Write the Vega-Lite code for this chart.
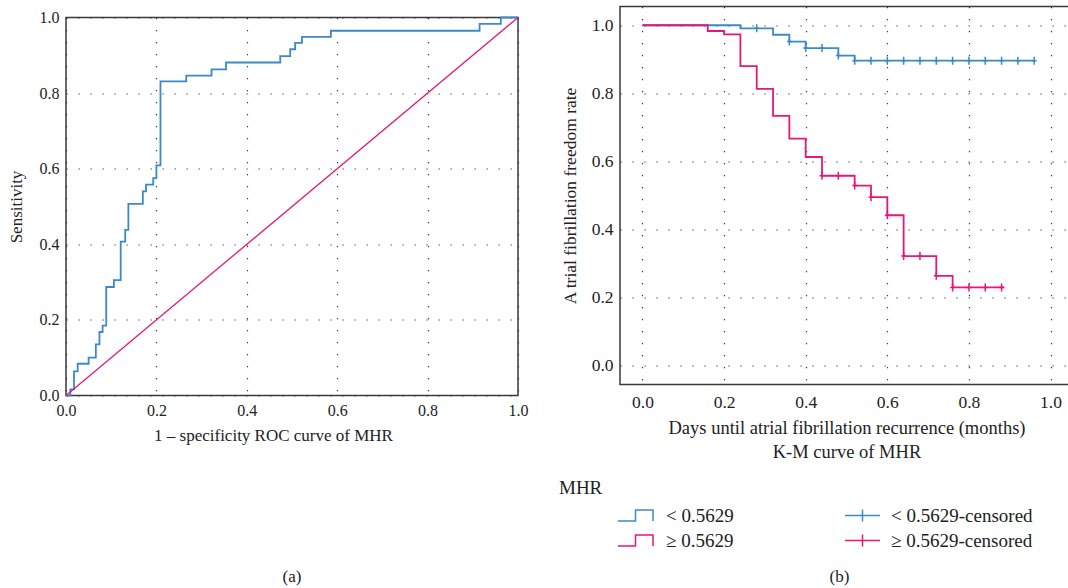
{
  "$schema": "https://vega.github.io/schema/vega-lite/v6.json",
  "background": "white",
  "padding": {"left": 6, "top": 5.5, "right": 0, "bottom": 0},
  "spacing": 31,
  "config": {
    "font": "Liberation Serif",
    "view": {"stroke": "#3a3a3a", "strokeWidth": 1.5},
    "axis": {
      "labelFont": "Liberation Serif", "titleFont": "Liberation Serif",
      "labelFontSize": 16, "titleFontSize": 17, "titleFontWeight": "normal",
      "labelColor": "#222", "titleColor": "#222",
      "ticks": false, "domain": false, "grid": true,
      "gridColor": "#333", "gridDash": [1.2, 10.8], "gridWidth": 1.2,
      "labelFlush": false
    },
    "legend": {
      "labelFont": "Liberation Serif", "titleFont": "Liberation Serif",
      "labelFontSize": 19, "titleFontSize": 19, "titleFontWeight": "normal",
      "labelColor": "#222", "titleColor": "#222"
    },
    "title": {"font": "Liberation Serif", "fontSize": 17, "fontWeight": "normal", "color": "#222"}
  },
  "datasets": {
    "roc": [
      {"fpr": 0.0, "tpr": 0.0}, {"fpr": 0.0096, "tpr": 0.016}, {"fpr": 0.0177, "tpr": 0.064},
      {"fpr": 0.0258, "tpr": 0.084}, {"fpr": 0.050, "tpr": 0.100}, {"fpr": 0.066, "tpr": 0.135},
      {"fpr": 0.074, "tpr": 0.168}, {"fpr": 0.081, "tpr": 0.185}, {"fpr": 0.089, "tpr": 0.287},
      {"fpr": 0.106, "tpr": 0.305}, {"fpr": 0.121, "tpr": 0.407}, {"fpr": 0.131, "tpr": 0.438},
      {"fpr": 0.138, "tpr": 0.507}, {"fpr": 0.170, "tpr": 0.540}, {"fpr": 0.177, "tpr": 0.558},
      {"fpr": 0.193, "tpr": 0.575}, {"fpr": 0.200, "tpr": 0.609}, {"fpr": 0.209, "tpr": 0.831},
      {"fpr": 0.266, "tpr": 0.846}, {"fpr": 0.322, "tpr": 0.863}, {"fpr": 0.354, "tpr": 0.881},
      {"fpr": 0.474, "tpr": 0.898}, {"fpr": 0.496, "tpr": 0.916}, {"fpr": 0.507, "tpr": 0.933},
      {"fpr": 0.522, "tpr": 0.949}, {"fpr": 0.586, "tpr": 0.965}, {"fpr": 0.915, "tpr": 0.983},
      {"fpr": 0.962, "tpr": 1.0}, {"fpr": 1.0, "tpr": 1.0}
    ],
    "diag": [{"fpr": 0, "tpr": 0}, {"fpr": 1, "tpr": 1}],
    "km": [
      {"t": 0.0, "s": 1.0, "group": "< 0.5629"}, {"t": 0.24, "s": 0.991, "group": "< 0.5629"},
      {"t": 0.32, "s": 0.972, "group": "< 0.5629"}, {"t": 0.36, "s": 0.952, "group": "< 0.5629"},
      {"t": 0.40, "s": 0.933, "group": "< 0.5629"}, {"t": 0.48, "s": 0.911, "group": "< 0.5629"},
      {"t": 0.52, "s": 0.896, "group": "< 0.5629"}, {"t": 0.962, "s": 0.896, "group": "< 0.5629"},
      {"t": 0.0, "s": 1.0, "group": "≥ 0.5629"}, {"t": 0.16, "s": 0.983, "group": "≥ 0.5629"},
      {"t": 0.20, "s": 0.973, "group": "≥ 0.5629"}, {"t": 0.24, "s": 0.880, "group": "≥ 0.5629"},
      {"t": 0.28, "s": 0.813, "group": "≥ 0.5629"}, {"t": 0.32, "s": 0.734, "group": "≥ 0.5629"},
      {"t": 0.36, "s": 0.667, "group": "≥ 0.5629"}, {"t": 0.40, "s": 0.613, "group": "≥ 0.5629"},
      {"t": 0.44, "s": 0.558, "group": "≥ 0.5629"}, {"t": 0.52, "s": 0.529, "group": "≥ 0.5629"},
      {"t": 0.56, "s": 0.495, "group": "≥ 0.5629"}, {"t": 0.60, "s": 0.442, "group": "≥ 0.5629"},
      {"t": 0.64, "s": 0.322, "group": "≥ 0.5629"}, {"t": 0.72, "s": 0.264, "group": "≥ 0.5629"},
      {"t": 0.76, "s": 0.230, "group": "≥ 0.5629"}, {"t": 0.887, "s": 0.230, "group": "≥ 0.5629"}
    ],
    "cens": [
      {"t": 0.28, "s": 0.991, "group": "< 0.5629-censored"}, {"t": 0.36, "s": 0.952, "group": "< 0.5629-censored"},
      {"t": 0.40, "s": 0.933, "group": "< 0.5629-censored"}, {"t": 0.44, "s": 0.933, "group": "< 0.5629-censored"},
      {"t": 0.48, "s": 0.911, "group": "< 0.5629-censored"}, {"t": 0.52, "s": 0.896, "group": "< 0.5629-censored"},
      {"t": 0.56, "s": 0.896, "group": "< 0.5629-censored"}, {"t": 0.60, "s": 0.896, "group": "< 0.5629-censored"},
      {"t": 0.64, "s": 0.896, "group": "< 0.5629-censored"}, {"t": 0.68, "s": 0.896, "group": "< 0.5629-censored"},
      {"t": 0.72, "s": 0.896, "group": "< 0.5629-censored"}, {"t": 0.76, "s": 0.896, "group": "< 0.5629-censored"},
      {"t": 0.80, "s": 0.896, "group": "< 0.5629-censored"}, {"t": 0.84, "s": 0.896, "group": "< 0.5629-censored"},
      {"t": 0.88, "s": 0.896, "group": "< 0.5629-censored"}, {"t": 0.92, "s": 0.896, "group": "< 0.5629-censored"},
      {"t": 0.96, "s": 0.896, "group": "< 0.5629-censored"},
      {"t": 0.44, "s": 0.558, "group": "≥ 0.5629-censored"}, {"t": 0.48, "s": 0.558, "group": "≥ 0.5629-censored"},
      {"t": 0.52, "s": 0.529, "group": "≥ 0.5629-censored"}, {"t": 0.56, "s": 0.495, "group": "≥ 0.5629-censored"},
      {"t": 0.60, "s": 0.442, "group": "≥ 0.5629-censored"}, {"t": 0.64, "s": 0.322, "group": "≥ 0.5629-censored"},
      {"t": 0.68, "s": 0.322, "group": "≥ 0.5629-censored"}, {"t": 0.72, "s": 0.264, "group": "≥ 0.5629-censored"},
      {"t": 0.76, "s": 0.230, "group": "≥ 0.5629-censored"}, {"t": 0.80, "s": 0.230, "group": "≥ 0.5629-censored"},
      {"t": 0.84, "s": 0.230, "group": "≥ 0.5629-censored"}, {"t": 0.88, "s": 0.230, "group": "≥ 0.5629-censored"}
    ]
  },
  "hconcat": [
    {
      "spacing": 1,
      "vconcat": [
        {
          "width": 452, "height": 1,
          "view": {"stroke": null},
          "data": {"values": []},
          "mark": {"type": "rule"},
          "encoding": {}
        },
        {
          "width": 452, "height": 378,
          "title": {"text": "(a)", "orient": "bottom", "offset": 125},
          "layer": [
            {
              "data": {"name": "roc"},
              "mark": {"type": "line", "interpolate": "step-after", "color": "#3B89C8", "strokeWidth": 1.8},
              "encoding": {
                "x": {"field": "fpr", "type": "quantitative", "scale": {"domain": [0, 1], "nice": false},
                      "axis": {"title": "1 – specificity ROC curve of MHR", "values": [0, 0.2, 0.4, 0.6, 0.8, 1.0], "format": ".1f", "labelPadding": 7, "titlePadding": 9, "titleX": 207, "titleAlign": "center"}},
                "y": {"field": "tpr", "type": "quantitative", "scale": {"domain": [0, 1], "nice": false},
                      "axis": {"title": "Sensitivity", "values": [0, 0.2, 0.4, 0.6, 0.8, 1.0], "format": ".1f", "labelPadding": 7, "titlePadding": 14}}
              }
            },
            {
              "data": {"name": "diag"},
              "mark": {"type": "line", "color": "#E6177B", "strokeWidth": 1.3},
              "encoding": {
                "x": {"field": "fpr", "type": "quantitative"},
                "y": {"field": "tpr", "type": "quantitative"}
              }
            }
          ]
        }
      ]
    },
    {
      "width": 453, "height": 378,
      "title": {"text": "(b)", "orient": "bottom", "offset": 108, "dx": -7},
      "layer": [
        {
          "data": {"name": "km"},
          "mark": {"type": "line", "interpolate": "step-after", "strokeWidth": 1.8},
          "encoding": {
            "x": {"field": "t", "type": "quantitative", "scale": {"domain": [-0.055, 1.055], "nice": false, "zero": false},
                  "axis": {"title": ["Days until atrial fibrillation recurrence (months)", "K-M curve of MHR"], "values": [0, 0.2, 0.4, 0.6, 0.8, 1.0], "format": ".1f", "labelPadding": 9, "titlePadding": 7, "titleLineHeight": 24, "labelFontSize": 17.5, "titleFontSize": 18.5}},
            "y": {"field": "s", "type": "quantitative", "scale": {"domain": [-0.055, 1.055], "nice": false, "zero": false},
                  "axis": {"title": "A trial fibrillation freedom rate", "values": [0, 0.2, 0.4, 0.6, 0.8, 1.0], "format": ".1f", "labelPadding": 7, "titlePadding": 12, "labelFontSize": 17.5, "titleFontSize": 17.5}},
            "color": {"field": "group", "type": "nominal",
                      "scale": {"domain": ["< 0.5629", "≥ 0.5629"], "range": ["#3B89C8", "#E6177B"]},
                      "legend": {"title": "MHR", "orient": "none", "legendX": 493, "legendY": 472,
                                 "symbolType": "M4.8,0.55L6.55,0.55L6.55,-0.55L8.3,-0.55L8.3,0.55",
                                 "symbolSize": 400, "symbolStrokeWidth": 1.5, "symbolFillColor": "transparent",
                                 "labelOffset": 85, "rowPadding": 4, "titlePadding": 7}}
          }
        },
        {
          "data": {"name": "cens"},
          "mark": {"type": "point", "shape": "M0,-1L0,1M-0.6,0L0.6,0", "size": 64, "filled": false, "strokeWidth": 1.5, "opacity": 1},
          "encoding": {
            "x": {"field": "t", "type": "quantitative"},
            "y": {"field": "s", "type": "quantitative"},
            "stroke": {"field": "group", "type": "nominal",
                       "scale": {"domain": ["< 0.5629-censored", "≥ 0.5629-censored"], "range": ["#3B89C8", "#E6177B"]},
                       "legend": {"title": " ", "orient": "none", "legendX": 785.5, "legendY": 472,
                                  "symbolType": "M-1.75,0L1.75,0M0,-0.6L0,0.6",
                                  "symbolSize": 400, "symbolStrokeWidth": 1.5, "symbolFillColor": "transparent",
                                  "labelOffset": 17.5, "rowPadding": 4, "titlePadding": 7}}
          }
        }
      ]
    }
  ]
}
